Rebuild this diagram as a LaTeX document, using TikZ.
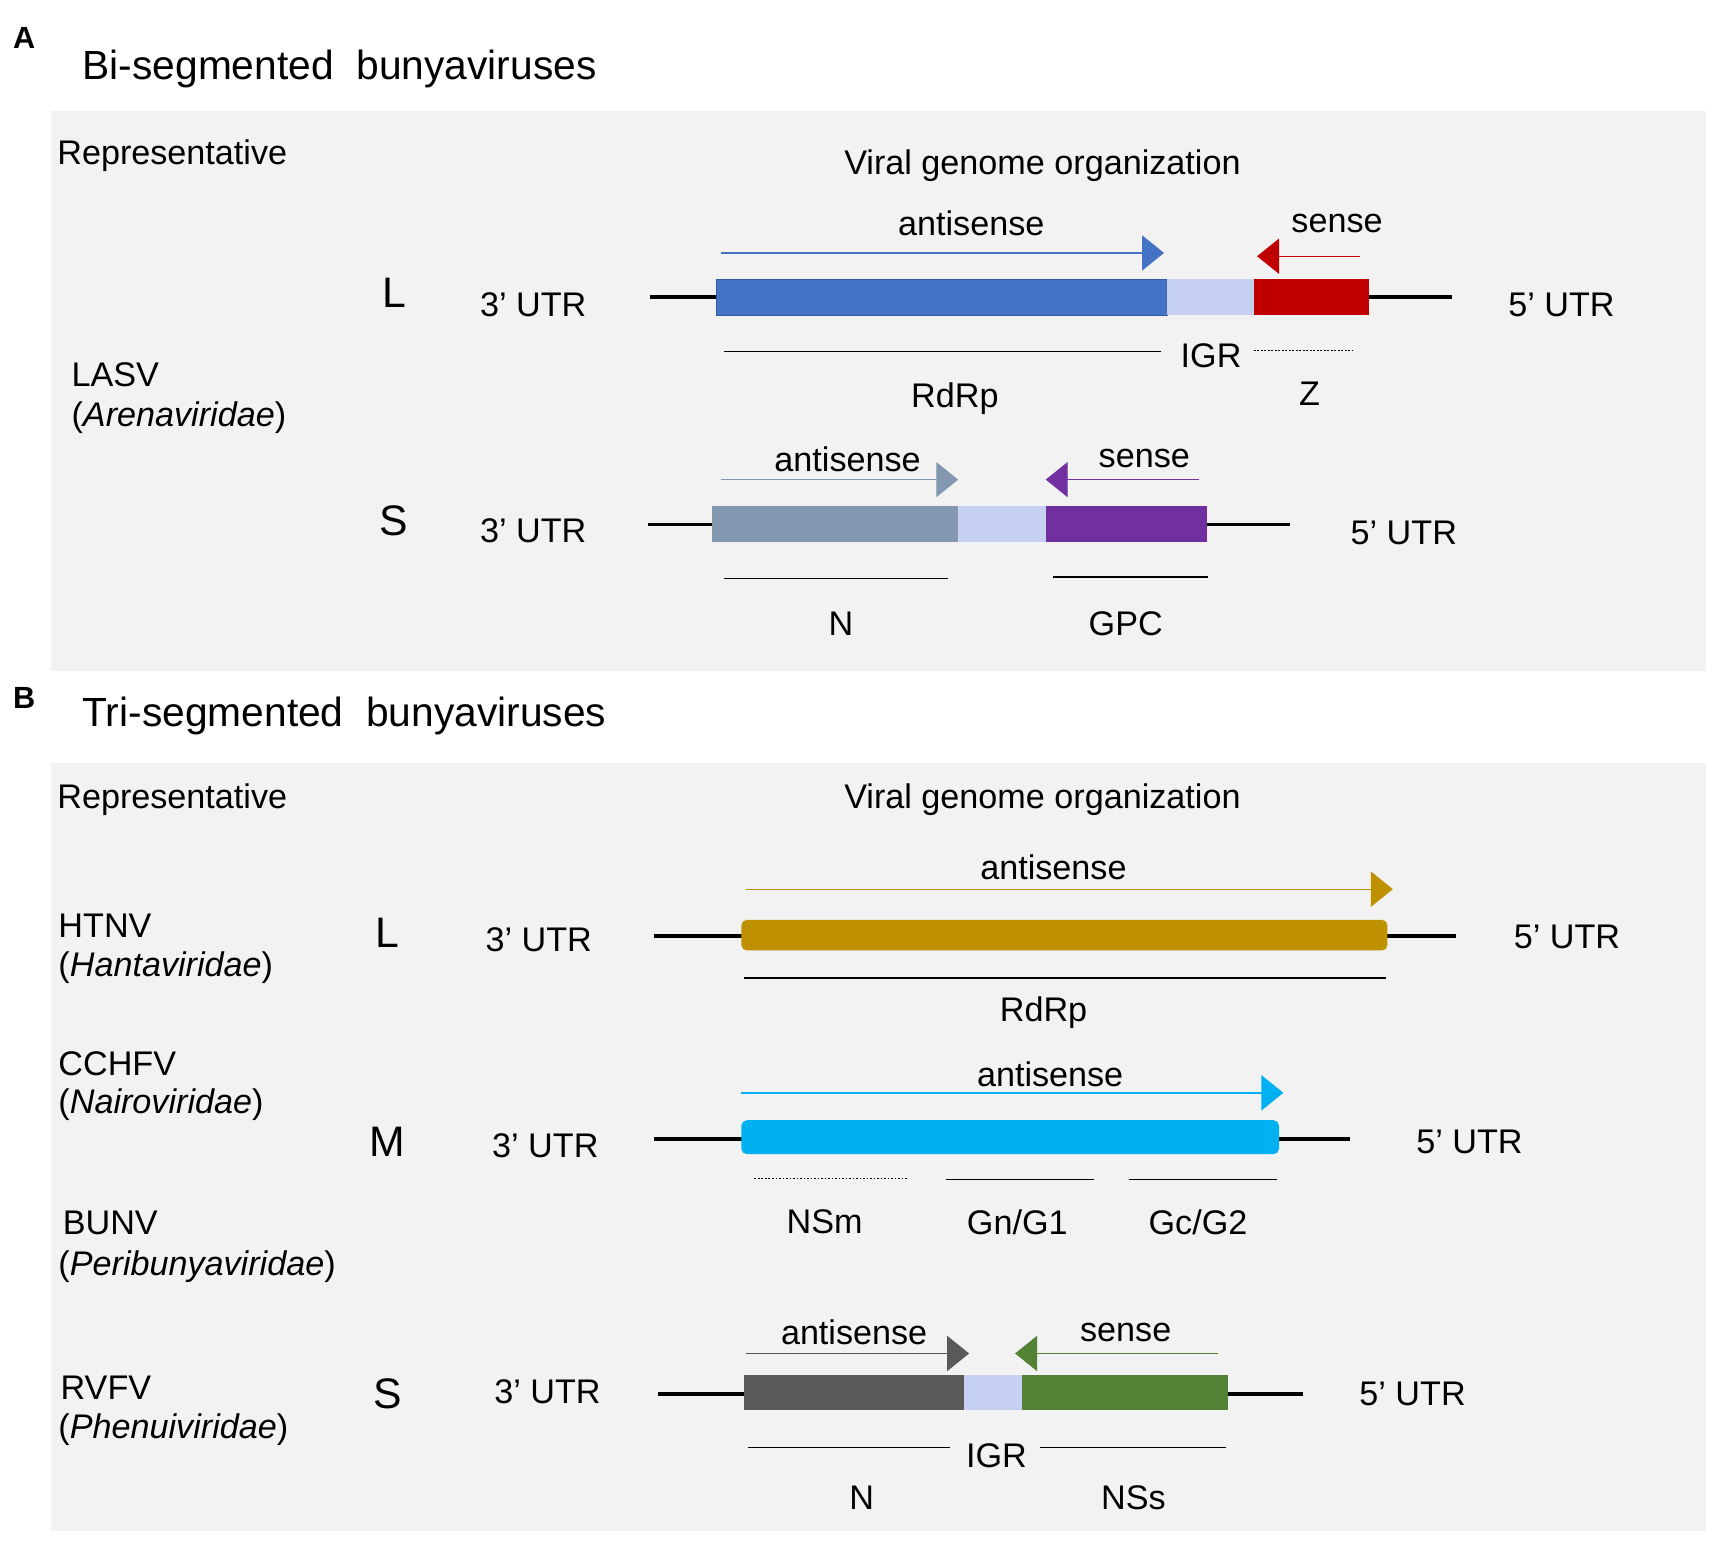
\documentclass[tikz,border=0pt]{standalone}
\usepackage{fontspec}
\setmainfont{Liberation Sans}
\usetikzlibrary{arrows.meta}
\definecolor{bgc}{HTML}{F2F2F2}
\definecolor{rdrpA}{HTML}{4472C4}
\definecolor{igrc}{HTML}{C6D0F2}
\definecolor{zred}{HTML}{C00000}
\definecolor{ngrey}{HTML}{8497B0}
\definecolor{gpcpur}{HTML}{7030A0}
\definecolor{gold}{HTML}{BF9000}
\definecolor{cyanb}{HTML}{00B0F0}
\definecolor{dgrey}{HTML}{595959}
\definecolor{nsgreen}{HTML}{548235}
\begin{document}
\begin{tikzpicture}[x=0.5pt,y=-0.5pt,
  txt/.style={inner sep=0pt,yshift=-1.5pt,font=\fontsize{15.6}{18}\selectfont},
  seg/.style={inner sep=0pt,font=\fontsize{19.5}{22}\selectfont},
  ttl/.style={inner sep=0pt,anchor=west,yshift=-1.5pt,font=\fontsize{18.6}{22}\selectfont},
  pnl/.style={inner sep=0pt,font=\fontsize{14}{16}\selectfont\bfseries},
  backbone/.style={line width=1.75pt,black},
  thin/.style={line width=0.6pt,black},
  dotl/.style={line width=0.6pt,black,dash pattern=on 0.8pt off 0.8pt},
  orf/.style={-{Triangle[length=10pt,width=16pt]},line width=0.6pt},
  bar/.style={draw=#1!80!black,line width=0.4pt,fill=#1}
]
\useasboundingbox (0,0) rectangle (1568,1408);
\fill[white] (0,0) rectangle (1568,1408);
\fill[bgc] (47,101) rectangle (1558,613);
\fill[bgc] (47,697) rectangle (1558,1398);

% Panel labels and titles
\node[pnl] (lA) at (22,35) {A};
\node[ttl] (tA) at (75,60) {Bi-segmented\ \ bunyaviruses};
\node[pnl] (lB) at (22,637) {B};
\node[ttl] (tB) at (75,651) {Tri-segmented\ \ bunyaviruses};

% ---------- Panel A ----------
\node[txt,anchor=west] (repA) at (52,139) {Representative};
\node[txt] (vgoA) at (952,148) {Viral genome organization};
\node[txt,anchor=west] (lasv) at (65,339) {LASV};
\node[txt,anchor=west] (arena) at (65,378) {(\textit{Arenaviridae})};

% L segment
\node[seg] (AL) at (360,267) {L};
\node[txt] (AL3) at (487,275) {3’ UTR};
\node[txt] (AL5) at (1426,275) {5’ UTR};
\draw[backbone] (594,271) -- (1326,271);
\filldraw[bar=rdrpA] (654,255) rectangle (1066,288);
\fill[igrc] (1066,255) rectangle (1145,288);
\fill[zred] (1145,255) rectangle (1250,288);
\draw[orf,rdrpA] (658,231) -- (1063,231);
\draw[orf,zred] (1242,234) -- (1148,234);
\node[txt] (ALas) at (887,201) {antisense};
\node[txt] (ALs) at (1221,201) {sense};
\node[txt] (ALigr) at (1106,322) {IGR};
\draw[thin] (661,321) -- (1060,321);
\draw[dotl] (1145,320) -- (1236,320);
\node[txt] (ALrdrp) at (872,361) {RdRp};
\node[txt] (ALz) at (1196,357) {Z};

% S segment
\node[seg] (AS) at (360,476) {S};
\node[txt] (AS3) at (487,482) {3’ UTR};
\node[txt] (AS5) at (1282,484) {5’ UTR};
\draw[backbone] (592,479) -- (1178,479);
\fill[ngrey] (650,462) rectangle (875,495);
\fill[igrc] (875,462) rectangle (955,495);
\fill[gpcpur] (955,462) rectangle (1102,495);
\draw[orf,ngrey] (658,438) -- (875,438);
\draw[orf,gpcpur] (1095,438) -- (955,438);
\node[txt] (ASas) at (774,416) {antisense};
\node[txt] (ASs) at (1045,416) {sense};
\draw[thin] (661,528) -- (866,528);
\draw[thin] (962,527) -- (1103,527);
\node[txt] (ASn) at (768,567) {N};
\node[txt] (ASgpc) at (1028,567) {GPC};

% ---------- Panel B ----------
\node[txt,anchor=west] (repB) at (52,727) {Representative};
\node[txt] (vgoB) at (952,727) {Viral genome organization};
\node[txt,anchor=west] (htnv) at (53,842) {HTNV};
\node[txt,anchor=west] (hanta) at (53,881) {(\textit{Hantaviridae})};
\node[txt,anchor=west] (cchfv) at (53,968) {CCHFV};
\node[txt,anchor=west] (nairo) at (53,1006) {(\textit{Nairoviridae})};
\node[txt,anchor=west] (bunv) at (57,1114) {BUNV};
\node[txt,anchor=west] (peri) at (53,1154) {(\textit{Peribunyaviridae})};
\node[txt,anchor=west] (rvfv) at (55,1264) {RVFV};
\node[txt,anchor=west] (phen) at (53,1303) {(\textit{Phenuiviridae})};

% L segment
\node[seg] (BL) at (354,852) {L};
\node[txt] (BL3) at (492,855) {3’ UTR};
\node[txt] (BL5) at (1431,853) {5’ UTR};
\draw[backbone] (597,855) -- (1330,855);
\fill[gold,rounded corners=2.5pt] (677,840) rectangle (1267,868);
\draw[orf,gold] (681,812) -- (1272,812);
\node[txt] (BLas) at (962,789) {antisense};
\draw[thin] (679,893) -- (1266,893);
\node[txt] (BLrdrp) at (953,922) {RdRp};

% M segment
\node[seg] (BM) at (354,1043) {M};
\node[txt] (BM3) at (498,1043) {3’ UTR};
\node[txt] (BM5) at (1342,1040) {5’ UTR};
\draw[backbone] (597,1040) -- (1233,1040);
\fill[cyanb,rounded corners=2.5pt] (677,1023) rectangle (1168,1054);
\draw[orf,cyanb] (677,998) -- (1172,998);
\node[txt] (BMas) at (959,978) {antisense};
\draw[dotl] (689,1076) -- (828,1076);
\draw[thin] (864,1077) -- (999,1077);
\draw[thin] (1031,1077) -- (1166,1077);
\node[txt] (BMnsm) at (753,1113) {NSm};
\node[txt] (BMgn) at (929,1113) {Gn/G1};
\node[txt] (BMgc) at (1094,1113) {Gc/G2};

% S segment
\node[seg] (BS) at (354,1273) {S};
\node[txt] (BS3) at (500,1268) {3’ UTR};
\node[txt] (BS5) at (1290,1270) {5’ UTR};
\draw[backbone] (601,1273) -- (1190,1273);
\fill[dgrey] (679,1256) rectangle (880,1288);
\fill[igrc] (880,1256) rectangle (933,1288);
\fill[nsgreen] (933,1256) rectangle (1121,1288);
\draw[orf,dgrey] (681,1236) -- (885,1236);
\draw[orf,nsgreen] (1112,1236) -- (927,1236);
\node[txt] (BSas) at (780,1214) {antisense};
\node[txt] (BSs) at (1028,1214) {sense};
\node[txt] (BSigr) at (910,1326) {IGR};
\draw[thin] (683,1322) -- (868,1322);
\draw[thin] (950,1322) -- (1120,1322);
\node[txt] (BSn) at (787,1365) {N};
\node[txt] (BSnss) at (1035,1365) {NSs};
\end{tikzpicture}
\end{document}
